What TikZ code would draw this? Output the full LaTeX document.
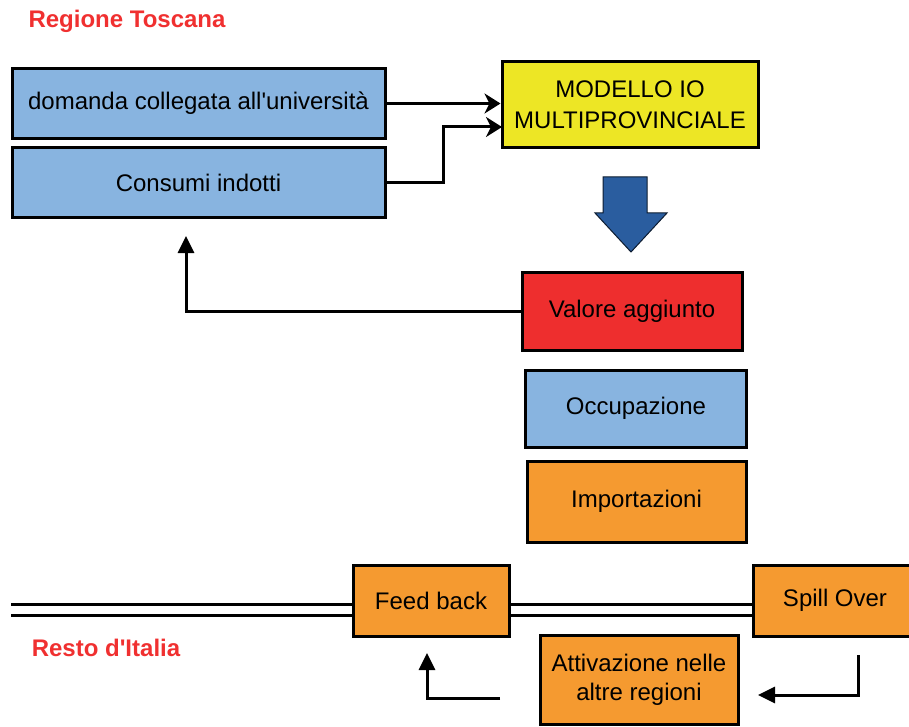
\documentclass[tikz,border=0pt]{standalone}
\usepackage{fontspec}
\setmainfont{Liberation Sans}
\usetikzlibrary{arrows.meta}
\definecolor{boxblue}{HTML}{88B4E0}
\definecolor{boxyellow}{HTML}{EDE625}
\definecolor{boxred}{HTML}{EE2E2E}
\definecolor{boxorange}{HTML}{F59A30}
\definecolor{bigarrow}{HTML}{2A5D9F}
\definecolor{titlered}{HTML}{F03030}
\tikzset{
  box/.style={draw=black, line width=3pt, rectangle, inner sep=2pt, align=center,
    font=\fontsize{24}{30}\selectfont},
  conn/.style={draw=black, line width=3pt},
  tipA/.style={-{Stealth[length=16pt,width=20pt,inset=5pt]}},
  tipB/.style={-{Triangle[length=17pt,width=16pt]}},
  heading/.style={text=titlered, font=\bfseries\fontsize{24}{28}\selectfont, inner sep=0pt}
}
\begin{document}
\begin{tikzpicture}[x=1pt,y=-1pt]
\useasboundingbox (0,0) rectangle (909,727);
\begin{scope}
\clip (0,0) rectangle (909,727);
% headings
\node[heading] (rt) at (127,21) {Regione Toscana};
\node[heading] (ri) at (106,648) {Resto d\textquotesingle Italia};
% boxes
\node[box, fill=boxblue, minimum width=373pt, minimum height=70pt] (dom) at (198.5,103.5) {domanda collegata all\textquotesingle università};
\node[box, fill=boxblue, minimum width=373pt, minimum height=70pt] (cons) at (198.5,183) {Consumi indotti};
\node[box, fill=boxyellow, minimum width=256pt, minimum height=86pt, font=\fontsize{24}{31}\selectfont] (mod) at (630,105) {MODELLO IO\\MULTIPROVINCIALE};
\node[box, fill=boxred, minimum width=220pt, minimum height=78pt] (val) at (632,311) {Valore aggiunto};
\node[box, fill=boxblue, minimum width=221pt, minimum height=77pt] (occ) at (636,408.5) {Occupazione};
\node[box, fill=boxorange, minimum width=219pt, minimum height=81pt] (imp) at (636.5,501.5) {Importazioni};
\node[box, fill=boxorange, minimum width=156pt, minimum height=71pt] (feed) at (431,600.5) {Feed back};
\node[box, fill=boxorange, minimum width=164pt, minimum height=71pt] (spill) at (835,600.5) {Spill Over};
\node[box, fill=boxorange, minimum width=198pt, minimum height=89pt, font=\fontsize{24}{29}\selectfont] (att) at (639,679.5) {Attivazione nelle\\altre regioni};
% double lines
\coordinate (dl) at (11,609.5);
\draw[double=white, double distance=8pt, line width=3pt] (dl) -- (feed.west |- dl);
\draw[double=white, double distance=8pt, line width=3pt] (feed.east |- dl) -- (spill.west |- dl);
% connectors
\draw[conn, tipA] (dom.east) -- (mod.west |- dom.east);
\coordinate (m2) at (502,127);
\draw[conn, tipA] (cons.east) -| (443,127) -- (m2);
\coordinate (ctip) at (186,236);
\draw[conn, tipB] (val.west) -| (ctip);
\coordinate (s1) at (858,655);
\coordinate (s2) at (758,695);
\draw[conn, tipB] (s1) |- (s2);
\coordinate (a1) at (500,698);
\coordinate (a2) at (427,653);
\draw[conn, tipB] (a1) -| (a2);
% big blue arrow
\draw[fill=bigarrow, draw=black!70!bigarrow, line width=1pt]
  (603,177) -- (647,177) -- (647,213) -- (667,213) -- (631,252) -- (595,213) -- (603,213) -- cycle;
\end{scope}
\end{tikzpicture}
\end{document}
